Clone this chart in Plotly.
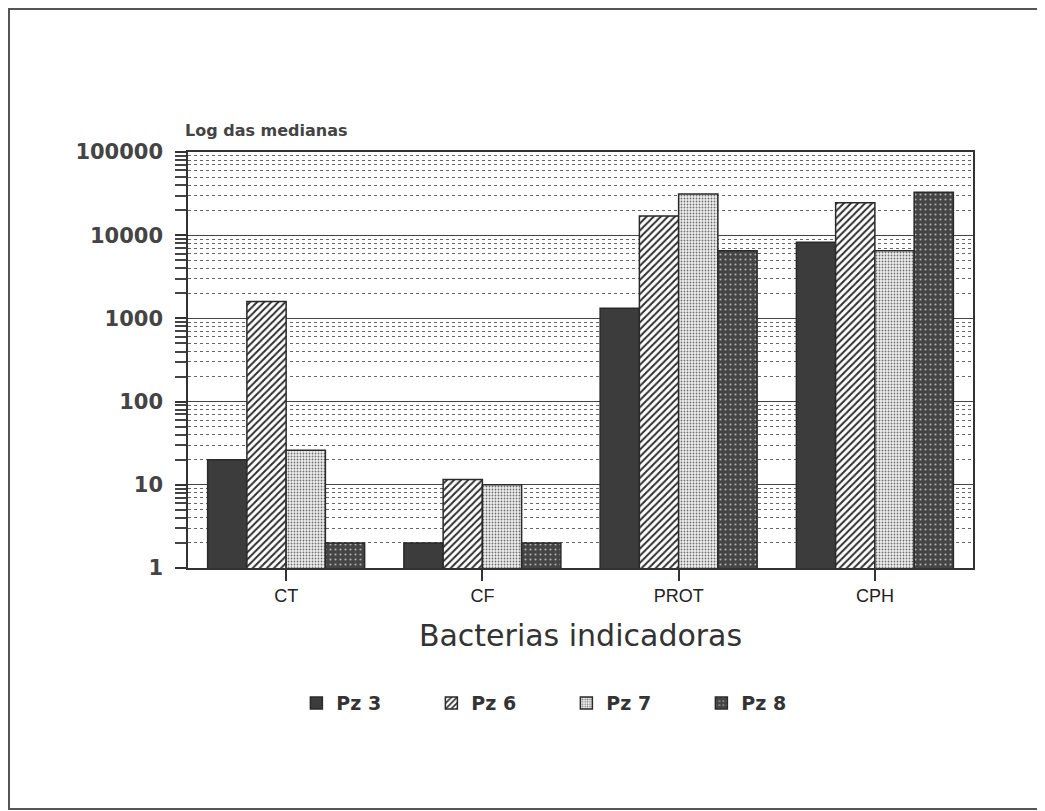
import plotly.graph_objects as go

categories = ["CT", "CF", "PROT", "CPH"]
series_names = ["Pz 3", "Pz 6", "Pz 7", "Pz 8"]
pz3 = [20, 2, 1320, 8200]
pz6 = [1600, 11.6, 17000, 24600]
pz7 = [26, 10, 31300, 6500]
pz8 = [2, 2, 6500, 32800]
y_tick_vals = [1, 10, 100, 1000, 10000, 100000]
y_tick_text = ["1", "10", "100", "1000", "10000", "100000"]

OFF = 8  # page body margin
W, H = 1045 - OFF, 811 - OFF
L, T = 188 - OFF, 152 - OFF
R = W - (973 - OFF)
B = H - (568 - OFF)

patterns = [
    None,
    dict(shape="/", bgcolor="white", fgcolor="#2e2e2e", size=5, solidity=0.4, fillmode="replace"),
    dict(shape=".", bgcolor="#f0f0f0", fgcolor="#707070", size=3, solidity=0.3, fillmode="replace"),
    dict(shape=".", bgcolor="#454545", fgcolor="#b0b0b0", size=5, solidity=0.15, fillmode="replace"),
]
colors = ["#3c3c3c", "white", "#f0f0f0", "#454545"]
data = [pz3, pz6, pz7, pz8]

fig = go.Figure()
for name, vals, col, pat in zip(series_names, data, colors, patterns):
    marker = dict(color=col, line=dict(color="#2a2a2a", width=1.5))
    if pat:
        marker["pattern"] = pat
    fig.add_trace(go.Bar(name=name, x=categories, y=vals, marker=marker))

minor_vals = []
for d in [1, 10, 100, 1000, 10000]:
    for k in range(2, 10):
        minor_vals.append(d * k)

fig.update_layout(
    width=W, height=H,
    margin=dict(l=L, r=R, t=T, b=B, pad=0),
    paper_bgcolor="white", plot_bgcolor="white",
    barmode="group", bargap=0.2, bargroupgap=0,
    font=dict(family="DejaVu Sans", color="#333333"),
    showlegend=True,
    legend=dict(orientation="h", x=0.482, xanchor="center", y=-0.325, yanchor="middle",
                font=dict(family="DejaVu Sans", size=19, color="#333333", weight="bold"),
                entrywidth=90, entrywidthmode="pixels", traceorder="normal"),
)
fig.update_xaxes(
    type="category",
    showline=True, linecolor="#333333", linewidth=1.5, mirror=True,
    ticks="outside", ticklen=11, tickcolor="#333333", tickwidth=1.5,
    tickfont=dict(family="Liberation Sans", size=18, color="#222222"),
    title=dict(text="Bacterias indicadoras", font=dict(family="DejaVu Sans", size=30, color="#333333"), standoff=20),
    showgrid=False,
)
fig.update_yaxes(
    type="log", range=[0, 5],
    tickvals=y_tick_vals, ticktext=y_tick_text,
    showline=True, linecolor="#333333", linewidth=1.5, mirror=True,
    ticks="outside", ticklen=11, tickcolor="#333333", tickwidth=1.5,
    ticklabelstandoff=8,
    tickfont=dict(family="DejaVu Sans", size=21, color="#444444", weight="bold"),
    showgrid=True, gridcolor="#444444", gridwidth=1.2,
    minor=dict(tickvals=minor_vals, ticks="outside", ticklen=11, tickcolor="#444444",
               showgrid=True, gridcolor="#666666", gridwidth=1, griddash="dot"),
    zeroline=False,
)
fig.add_annotation(text="<b>Log das medianas</b>", xref="paper", yref="paper",
                   x=-0.007, y=1.0505, xanchor="left", yanchor="middle", showarrow=False,
                   font=dict(family="DejaVu Sans", size=16, color="#444444"))
pw, ph = W - L - R, H - T - B
fig.add_shape(type="rect", xref="paper", yref="paper",
              x0=(1 - L) / pw, x1=(1031 - L) / pw, y0=(H - B - (H - 2)) / ph, y1=(H - B - 1) / ph,
              line=dict(color="#555555", width=2), fillcolor="rgba(0,0,0,0)", layer="below")
fig.write_html("out.html")
